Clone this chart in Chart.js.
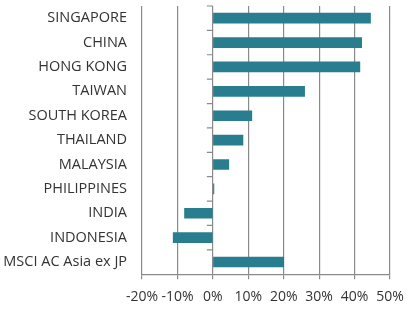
<!DOCTYPE html>
<html>
<head>
<meta charset="utf-8">
<script src="https://cdn.jsdelivr.net/npm/chart.js@4"></script>
<style>
  html, body { margin: 0; padding: 0; background: #fff; }
  #wrap { width: 415px; height: 322px; }
</style>
</head>
<body>
<div id="wrap"><canvas id="chart"></canvas></div>
<script>
let markets = ["SINGAPORE", "CHINA", "HONG KONG", "TAIWAN", "SOUTH KOREA", "THAILAND",
  "MALAYSIA", "PHILIPPINES", "INDIA", "INDONESIA", "MSCI AC Asia ex JP"];
let returns = [44.5, 42.0, 41.5, 25.9, 11.0, 8.5, 4.5, 0.3, -8.0, -11.2, 20.0];
let xTicks = [-20, -10, 0, 10, 20, 30, 40, 50];

let gridGrey = "#8a8a8a";
let textGrey = "#333333";

/* short ticks on the zero line between categories */
let zeroTicks = {
  id: "zeroTicks",
  afterDatasetsDraw(chart) {
    let x = chart.scales.x, y = chart.scales.y;
    let x0 = x.getPixelForValue(0);
    let step = y.getPixelForValue(1) - y.getPixelForValue(0);
    let ctx = chart.ctx;
    ctx.save();
    ctx.strokeStyle = gridGrey;
    ctx.lineWidth = 1.2;
    ctx.beginPath();
    for (let i = 0; i < markets.length; i++) {
      let top = y.getPixelForValue(i) - step / 2;
      ctx.moveTo(x0 - 6, top);
      ctx.lineTo(x0, top);
    }
    ctx.stroke();
    ctx.restore();
  }
};

new Chart(document.getElementById("chart"), {
  type: "bar",
  data: {
    labels: markets,
    datasets: [{
      data: returns,
      backgroundColor: "#287d8f",
      barThickness: 10
    }]
  },
  options: {
    indexAxis: "y",
    responsive: true,
    maintainAspectRatio: false,
    animation: false,
    layout: { padding: { top: 6, right: 25, bottom: 8, left: 0 } },
    plugins: { legend: { display: false }, tooltip: { enabled: false } },
    scales: {
      x: {
        min: -20,
        max: 50,
        afterBuildTicks: (s) => { s.ticks = xTicks.map(v => ({ value: v })); },
        grid: { color: gridGrey, lineWidth: 1.2, tickLength: 5, drawTicks: true },
        border: { display: true, color: gridGrey, width: 1.2 },
        ticks: {
          color: textGrey,
          padding: 9,
          maxRotation: 0,
          autoSkip: false,
          font: { family: "Open Sans", size: 14 },
          callback: (v) => v + "%"
        }
      },
      y: {
        afterFit: (s) => { s.width = 142; s.paddingTop = 0; s.paddingBottom = 0; },
        grid: { display: false },
        border: { display: false },
        ticks: {
          color: textGrey,
          padding: 7,
          autoSkip: false,
          font: { family: "Open Sans", size: 14.5 }
        }
      }
    }
  },
  plugins: [zeroTicks]
});
</script>
</body>
</html>
